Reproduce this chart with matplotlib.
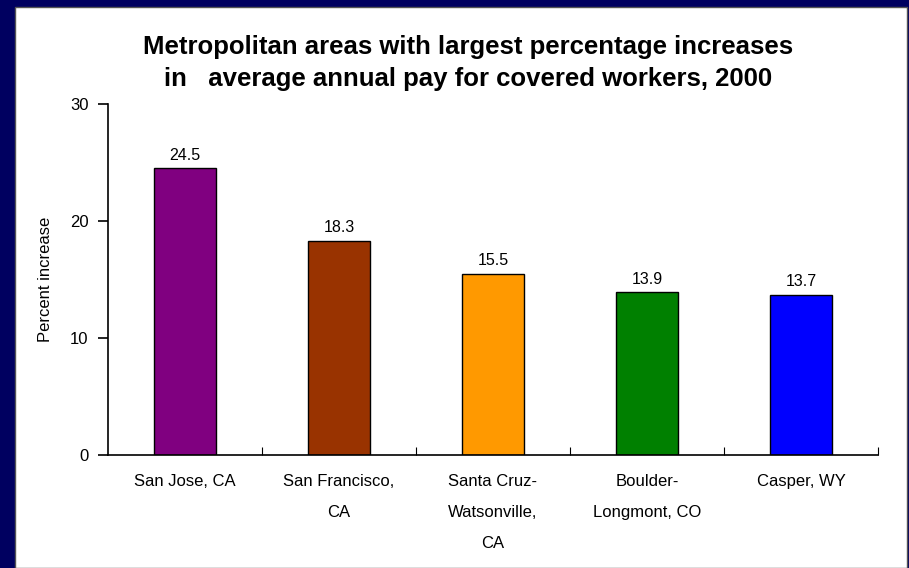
import matplotlib.pyplot as plt
from matplotlib.patches import Rectangle

areas = ['San Jose, CA', 'San Francisco,\nCA', 'Santa Cruz-\nWatsonville,\nCA',
         'Boulder-\nLongmont, CO', 'Casper, WY']
pct_increase = [24.5, 18.3, 15.5, 13.9, 13.7]
bar_colors = ['#800080', '#993300', '#FF9900', '#008000', '#0000FF']
yticks = [0, 10, 20, 30]

plt.rcParams['font.family'] = ['Liberation Sans', 'DejaVu Sans']

fig = plt.figure(figsize=[9.09, 5.68], dpi=100)
fig.patch.set_facecolor('#000060')
# white panel inside the navy frame
fig.patches.append(Rectangle((15 / 909, 0), 892 / 909, 1 - 7 / 568,
                             transform=fig.transFigure, facecolor='white',
                             edgecolor='#555555', linewidth=1, zorder=-10))

ax = fig.add_axes([108 / 909, 1 - 455 / 568, 770 / 909, 351 / 568])
ax.set_facecolor('white')
x = range(len(areas))
bars = ax.bar(x, pct_increase, width=0.4, color=bar_colors,
              edgecolor='black', linewidth=1)
for i, v in enumerate(pct_increase):
    ax.text(i, v + 0.5, f'{v}', ha='center', va='bottom', fontsize=11.5)

ax.set_xlim(-0.5, len(areas) - 0.5)
ax.set_ylim(0, 30)
ax.set_yticks(yticks)
ax.set_yticklabels([str(t) for t in yticks], fontsize=12)
ax.set_xticks([i + 0.5 for i in range(len(areas))], minor=False)
ax.set_xticklabels([])
ax.set_xticks(list(x), minor=True)
ax.set_xticklabels(areas, minor=True, fontsize=12, linespacing=2.3, va='top')
ax.tick_params(axis='x', which='minor', length=0, pad=14)
ax.tick_params(axis='x', which='major', direction='in', length=6)
ax.tick_params(axis='y', direction='out', length=7, width=1.2, pad=7)
ax.spines['top'].set_visible(False)
ax.spines['right'].set_visible(False)
for s in ['left', 'bottom']:
    ax.spines[s].set_linewidth(1.2)
ax.set_ylabel('Percent increase', fontsize=12, labelpad=12)

fig.text(468 / 909, 1 - 63 / 568,
         'Metropolitan areas with largest percentage increases\nin   average annual pay for covered workers, 2000',
         ha='center', va='center', fontsize=18.5, fontweight='bold', linespacing=1.4)

fig.savefig('out.png', dpi=100, facecolor=fig.get_facecolor())
